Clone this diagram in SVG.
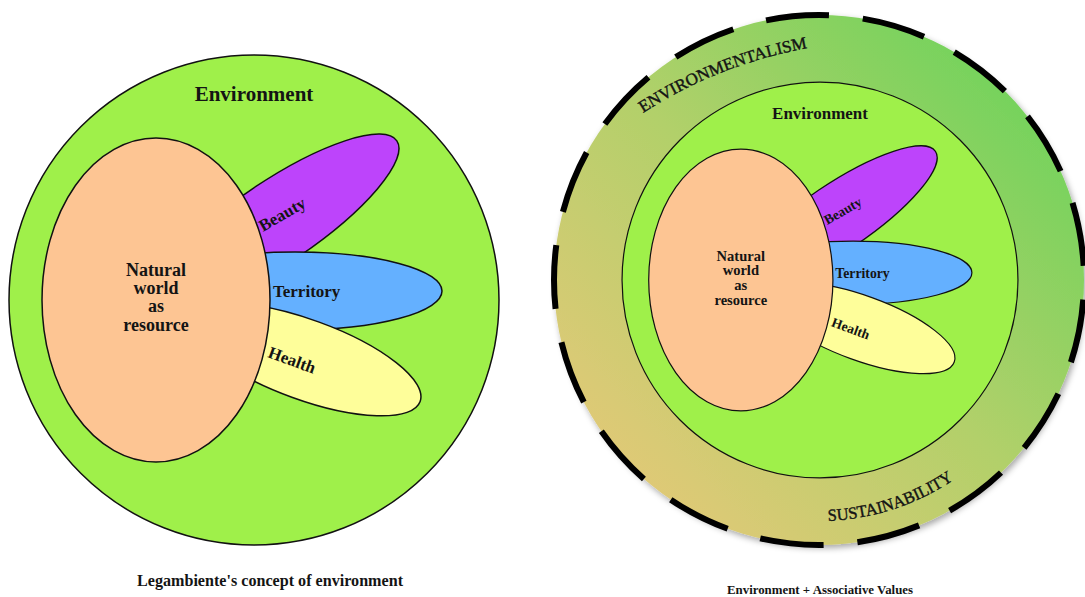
<svg xmlns="http://www.w3.org/2000/svg" width="1085" height="597" viewBox="0 0 1085 597">
  <style>
    .env { fill: #9ff04a; stroke: #111; stroke-width: 1.5; }
    .peach { fill: #fdc593; stroke: #111; stroke-width: 1.5; }
    .beauty { fill: #bd44fb; stroke: #111; stroke-width: 1.5; }
    .territory { fill: #64b0ff; stroke: #111; stroke-width: 1.5; }
    .health { fill: #fefe9a; stroke: #111; stroke-width: 1.5; }
    text { font-family: "Liberation Serif", "Times New Roman", serif; fill: #141414; }
    .title { font-size: 21px; font-weight: bold; text-anchor: middle; }
    .core { font-size: 18px; font-weight: bold; text-anchor: middle; }
    .petal { font-size: 17px; font-weight: bold; }
    .ringtxt { font-size: 17px; stroke: #141414; stroke-width: 0.4; }
    .caption { font-weight: bold; text-anchor: middle; }
  </style>
  <defs>
    <linearGradient id="ringGrad" gradientUnits="userSpaceOnUse" x1="600" y1="500" x2="1040" y2="60">
      <stop offset="0" stop-color="#e6c878"/>
      <stop offset="0.5" stop-color="#b2d06a"/>
      <stop offset="1" stop-color="#6cd35a"/>
    </linearGradient>
    <filter id="shadow" x="-10%" y="-10%" width="120%" height="120%">
      <feDropShadow dx="2" dy="3" stdDeviation="3" flood-color="#000" flood-opacity="0.35"/>
    </filter>
    <path id="arcTop" d="M 643,113 A 450 450 0 0 1 814,47"/>
    <path id="arcBottom" d="M 798,520.1 A 241 241 0 0 0 1016.4,418.2"/>
  </defs>

  <g id="left-diagram">
    <g id="left-environment">
      <ellipse class="env" cx="254" cy="300" rx="245" ry="245"/>
      <text class="title" x="254" y="101">Environment</text>
    </g>
    <g id="left-beauty">
      <ellipse class="beauty" cx="275" cy="223" rx="147" ry="41" transform="rotate(-34 275 223)"/>
      <text class="petal" transform="translate(263,232) rotate(-30)">Beauty</text>
    </g>
    <g id="left-territory">
      <ellipse class="territory" cx="295" cy="291" rx="147" ry="39"/>
      <text class="petal" x="273" y="297">Territory</text>
    </g>
    <g id="left-health">
      <ellipse class="health" cx="305.5" cy="359.7" rx="122" ry="40" transform="rotate(20 305.5 359.7)"/>
      <text class="petal" transform="translate(267,357) rotate(20)">Health</text>
    </g>
    <g id="left-natural-world">
      <ellipse class="peach" cx="156" cy="300" rx="114" ry="162"/>
      <text class="core" x="156" y="276">Natural</text>
      <text class="core" x="156" y="294">world</text>
      <text class="core" x="156" y="312">as</text>
      <text class="core" x="156" y="331">resource</text>
    </g>
    <text id="left-caption" class="caption" x="270" y="586" font-size="16" textLength="266" lengthAdjust="spacingAndGlyphs">Legambiente's concept of environment</text>
  </g>

  <g id="right-diagram">
    <g id="ring">
      <circle cx="819" cy="280" r="265" fill="url(#ringGrad)" filter="url(#shadow)"/>
      <path d="M 819,15 A 265 265 0 1 1 819,545 A 265 265 0 1 1 819,15" fill="none" stroke="#000" stroke-width="6" stroke-dasharray="64 33.94" stroke-dashoffset="53.94"/>
      <text class="ringtxt"><textPath href="#arcTop" textLength="178" lengthAdjust="spacingAndGlyphs">ENVIRONMENTALISM</textPath></text>
      <text class="ringtxt" font-size="16.5"><textPath href="#arcBottom" startOffset="30" textLength="134" lengthAdjust="spacingAndGlyphs">SUSTAINABILITY</textPath></text>
    </g>
    <g transform="translate(820,280) scale(0.808) translate(-254,-300)">
      <g id="right-environment">
        <ellipse class="env" cx="254" cy="300" rx="245" ry="245"/>
        <text class="title" x="254" y="101">Environment</text>
      </g>
      <g id="right-beauty">
        <ellipse class="beauty" cx="275" cy="223" rx="147" ry="41" transform="rotate(-34 275 223)"/>
        <text class="petal" transform="translate(263,232) rotate(-30)">Beauty</text>
      </g>
      <g id="right-territory">
        <ellipse class="territory" cx="295" cy="291" rx="147" ry="39"/>
        <text class="petal" x="273" y="297">Territory</text>
      </g>
      <g id="right-health">
        <ellipse class="health" cx="305.5" cy="359.7" rx="122" ry="40" transform="rotate(20 305.5 359.7)"/>
        <text class="petal" transform="translate(267,357) rotate(20)">Health</text>
      </g>
      <g id="right-natural-world">
        <ellipse class="peach" cx="156" cy="300" rx="114" ry="162"/>
        <text class="core" x="156" y="276">Natural</text>
        <text class="core" x="156" y="294">world</text>
        <text class="core" x="156" y="312">as</text>
        <text class="core" x="156" y="331">resource</text>
      </g>
    </g>
    <text id="right-caption" class="caption" x="820" y="594" font-size="13" textLength="186" lengthAdjust="spacingAndGlyphs">Environment + Associative Values</text>
  </g>

  <g id="connectors"/>
</svg>
